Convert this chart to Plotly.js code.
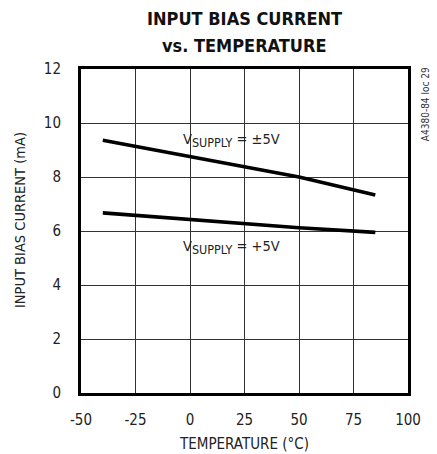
<!DOCTYPE html>
<html>
<head>
<meta charset="utf-8">
<script src="https://cdn.plot.ly/plotly-3.0.1.min.js"></script>
<style>html,body{margin:0;padding:0;background:#fff;}#chart{width:437px;height:454px;}</style>
</head>
<body>
<div id="chart"></div>
<script>
// Temperature sweep (°C) and measured input bias current (mA)
const temperature = [-40, 0, 25, 50, 85];
const biasDual = [9.36, 8.75, 8.37, 8.0, 7.33];    // VSUPPLY = ±5V
const biasSingle = [6.67, 6.43, 6.27, 6.12, 5.95]; // VSUPPLY = +5V

const xTicks = [-50, -25, 0, 25, 50, 75, 100];
const yTicks = [0, 2, 4, 6, 8, 10, 12];

const FONT = '"DejaVu Sans Condensed", "Liberation Sans Narrow", Arial, sans-serif';
const TXT = '#222';

const traces = [
  {x: temperature, y: biasDual, mode: 'lines', line: {color: '#000', width: 3.6}, hoverinfo: 'skip'},
  {x: temperature, y: biasSingle, mode: 'lines', line: {color: '#000', width: 3.6}, hoverinfo: 'skip'}
];

const supplyLabel = v => 'V<sub><span style="font-size:12.5px">SUPPLY</span></sub> = ' + v;

const layout = {
  width: 437, height: 454,
  margin: {l: 81, r: 29, t: 69, b: 61},
  paper_bgcolor: '#fff', plot_bgcolor: '#fff',
  showlegend: false,
  font: {family: FONT, color: TXT, size: 14},
  xaxis: {
    range: [-50, 100], tickvals: xTicks, ticktext: xTicks.map(String),
    showgrid: true, gridcolor: '#333', gridwidth: 1,
    zeroline: false, showline: true, linecolor: '#000', linewidth: 3, mirror: true,
    ticks: '', ticklabelstandoff: 11,
    tickfont: {family: FONT, size: 15, color: TXT},
    title: {text: 'TEMPERATURE (°C)', font: {family: FONT, size: 15, color: TXT}, standoff: 11}
  },
  yaxis: {
    range: [0, 12], tickvals: yTicks, ticktext: yTicks.map(String),
    showgrid: true, gridcolor: '#333', gridwidth: 1,
    zeroline: false, showline: true, linecolor: '#000', linewidth: 3, mirror: true,
    ticks: '', ticklabelstandoff: 14,
    tickfont: {family: FONT, size: 15, color: TXT}
  },
  annotations: [
    // chart heading, two lines
    {x: 0.5, xref: 'paper', xanchor: 'center', y: 1, yref: 'paper', yanchor: 'middle', yshift: 51,
     showarrow: false, text: '<b>INPUT BIAS CURRENT</b>',
     font: {family: FONT, size: 18, color: '#111'}},
    {x: 0.5, xref: 'paper', xanchor: 'center', y: 1, yref: 'paper', yanchor: 'middle', yshift: 24,
     showarrow: false, text: '<b>vs. TEMPERATURE</b>',
     font: {family: FONT, size: 18, color: '#111'}},
    // y-axis title
    {x: 0, xref: 'paper', xanchor: 'center', xshift: -61, y: 0.5, yref: 'paper', yanchor: 'middle', yshift: 11,
     showarrow: false, textangle: -90, text: 'INPUT BIAS CURRENT (mA)',
     font: {family: FONT, size: 14.5, color: TXT}},
    {x: 19, y: 9.37, xref: 'x', yref: 'y', showarrow: false,
     text: supplyLabel('±5V'), font: {family: FONT, size: 14.5, color: TXT}},
    {x: 19, y: 5.4, xref: 'x', yref: 'y', showarrow: false,
     text: supplyLabel('+5V'), font: {family: FONT, size: 14.5, color: TXT}},
    {x: 1.0, xref: 'paper', xanchor: 'left', xshift: 10, y: 0.89, yref: 'paper', yanchor: 'middle',
     showarrow: false, textangle: -90, text: 'A4380-84 loc 29',
     font: {family: FONT, size: 10, color: '#333'}}
  ]
};

Plotly.newPlot('chart', traces, layout, {displayModeBar: false, staticPlot: true});
</script>
</body>
</html>
